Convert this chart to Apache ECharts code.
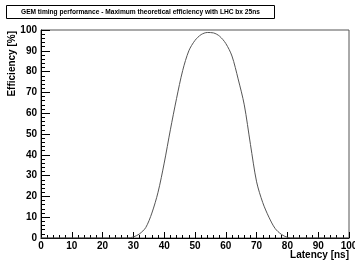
<!DOCTYPE html>
<html>
<head>
<meta charset="utf-8">
<script src="https://cdn.jsdelivr.net/npm/echarts@6/dist/echarts.min.js"></script>
<style>
html,body{margin:0;padding:0;background:#fff;}
#chart{width:355px;height:262px;}
</style>
</head>
<body>
<div id="chart"></div>
<script>
// latency [ns] and efficiency [%]
var latency = [0, 28, 30, 32, 34, 36, 38, 40, 42, 44, 46, 48, 50, 52, 54, 56, 58, 60, 62, 64, 66, 68, 70, 72, 74, 76, 78, 80, 82, 100];
var efficiency = [0, 0, 0.5, 2, 5, 12, 22, 36, 52, 67, 80.5, 90, 95, 97.8, 98.8, 98.6, 97, 93.5, 87.5, 76.5, 64, 45, 27, 17, 10, 4.6, 1.8, 0.3, 0, 0];

var titleText = 'GEM timing performance - Maximum theoretical efficiency with LHC bx 25ns';

var points = latency.map(function (x, i) { return [x, efficiency[i]]; });

var chart = echarts.init(document.getElementById('chart'));
var font = 'Liberation Sans';
var option = {
  animation: false,
  title: {
    text: titleText,
    left: 6,
    top: 5,
    padding: [3, 15, 3, 15],
    borderColor: '#000',
    borderWidth: 1,
    textStyle: {fontSize: 6.6, lineHeight: 8, fontWeight: 'bold', fontFamily: font, color: '#000'}
  },
  grid: {
    left: 41, right: 6, top: 30, bottom: 24,
    outerBoundsMode: 'none',
    show: true, borderColor: '#555', borderWidth: 1
  },
  xAxis: {
    type: 'value', min: 0, max: 100, interval: 10,
    name: 'Latency [ns]',
    nameLocation: 'end',
    nameGap: 0,
    nameMoveOverlap: false,
    nameTextStyle: {fontSize: 10, fontWeight: 'bold', fontFamily: font, color: '#000',
      align: 'right', verticalAlign: 'top', padding: [12, 0, 0, 0]},
    axisLine: {lineStyle: {color: '#000'}},
    axisTick: {inside: true, length: 6, lineStyle: {color: '#000'}},
    minorTick: {show: true, splitNumber: 5, length: 3, lineStyle: {color: '#000'}},
    splitLine: {show: false},
    axisLabel: {fontSize: 10, fontWeight: 'bold', fontFamily: font, color: '#000', margin: 3}
  },
  yAxis: {
    type: 'value', min: 0, max: 100, interval: 10,
    name: 'Efficiency [%]',
    nameLocation: 'end',
    nameGap: -1,
    nameRotate: 90,
    nameMoveOverlap: false,
    nameTextStyle: {fontSize: 10, fontWeight: 'bold', fontFamily: font, color: '#000',
      align: 'right', verticalAlign: 'bottom', padding: [0, 0, 24, 0]},
    axisLine: {lineStyle: {color: '#000'}},
    axisTick: {inside: true, length: 9, lineStyle: {color: '#000'}},
    minorTick: {show: true, splitNumber: 5, length: 4, lineStyle: {color: '#000'}},
    splitLine: {show: false},
    axisLabel: {fontSize: 10, fontWeight: 'bold', fontFamily: font, color: '#000', margin: 4}
  },
  series: [{
    type: 'line',
    data: points,
    smooth: 0.3,
    showSymbol: false,
    lineStyle: {color: '#555', width: 1}
  }]
};
chart.setOption(option);
</script>
</body>
</html>
